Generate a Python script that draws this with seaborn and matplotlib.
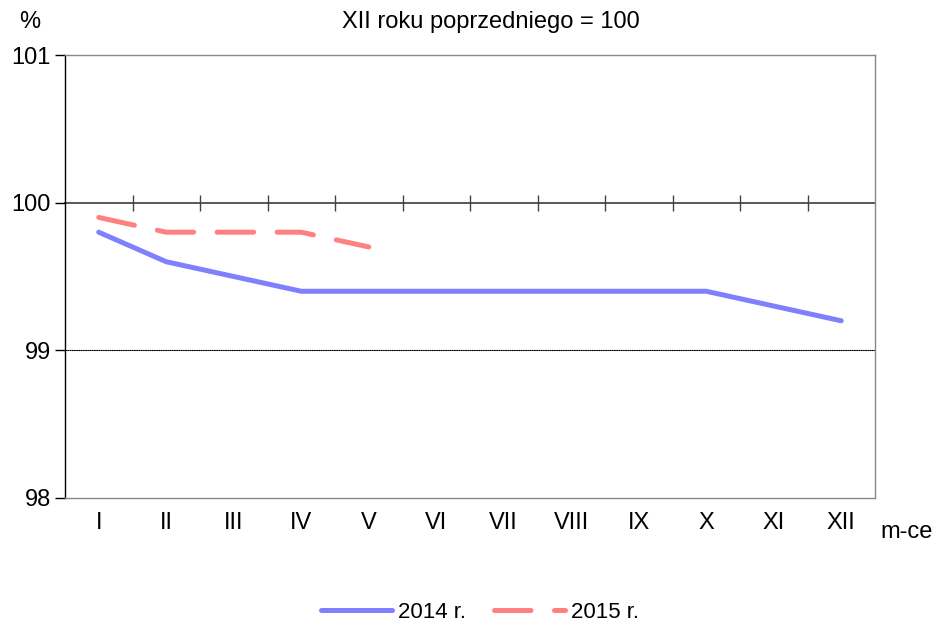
import matplotlib
matplotlib.use("Agg")
import matplotlib.pyplot as plt
import seaborn as sns
import pandas as pd
import numpy as np

months = ["I", "II", "III", "IV", "V", "VI", "VII", "VIII", "IX", "X", "XI", "XII"]
values_2014 = [99.8, 99.6, 99.5, 99.4, 99.4, 99.4, 99.4, 99.4, 99.4, 99.4, 99.3, 99.2]
values_2015 = [99.9, 99.8, 99.8, 99.8, 99.7]
series_names = ["2014 r.", "2015 r."]
yticks = [98, 99, 100, 101]

sns.set_theme(style="white")
plt.rcParams["font.family"] = ["Liberation Sans", "DejaVu Sans"]
plt.rcParams["lines.dash_capstyle"] = "round"
plt.rcParams["lines.solid_capstyle"] = "round"
plt.rcParams["text.color"] = "black"
plt.rcParams["xtick.labelcolor"] = "black"
plt.rcParams["ytick.labelcolor"] = "black"
plt.rcParams["legend.labelcolor"] = "black"

rows = []
for i, v in enumerate(values_2014):
    rows.append({"x": i, "v": v, "s": series_names[0]})
for i, v in enumerate(values_2015):
    rows.append({"x": i, "v": v, "s": series_names[1]})
df = pd.DataFrame(rows)

fig = plt.figure(figsize=(9.33, 6.28), dpi=100)
ax = fig.add_axes([65/933, 1-498/628, (875-65)/933, (498-55)/628])

sns.lineplot(data=df, x="x", y="v", hue="s", style="s",
             palette={series_names[0]: "#8080FF", series_names[1]: "#FF8080"},
             dashes={series_names[0]: "", series_names[1]: (7.3, 4.7)},
             linewidth=3.6, ax=ax, legend=True, zorder=3)

ax.set_xlim(-0.5, len(months) - 0.5)
ax.set_ylim(98, 101)
ax.set_yticks(yticks)
ax.set_yticklabels([str(t) for t in yticks], fontsize=17)
ax.tick_params(axis="y", direction="out", length=7, width=1, color="black",
               labelcolor="black", pad=3, left=True)
ax.set_xticks(range(len(months)))
ax.set_xticklabels(months, fontsize=17)
ax.tick_params(axis="x", length=0, pad=10, labelcolor="black")
ax.set_xlabel("")
ax.set_ylabel("")

for sp in ["top", "right", "bottom"]:
    ax.spines[sp].set_color("#888888")
    ax.spines[sp].set_linewidth(1)
ax.spines["left"].set_color("black")
ax.spines["left"].set_linewidth(1)

ax.axhline(99, color="black", linestyle=(0, (1, 1)), linewidth=0.8, zorder=1)

sec = ax.secondary_xaxis(location=(100 - 98) / 3)
sec.set_xticks(np.arange(0.5, len(months) - 1, 1.0))
sec.set_xticklabels([])
sec.tick_params(axis="x", direction="inout", length=12, width=1, color="#444444")
sec.spines["bottom"].set_color("#444444")
sec.spines["top"].set_color("#444444")
sec.spines["bottom"].set_linewidth(1)

fig.text(30/933, 1-22/628, "%", fontsize=17, ha="center", va="center", color="black")
fig.text(491/933, 1-22/628, "XII roku poprzedniego = 100", fontsize=17,
         ha="center", va="center", color="black")
fig.text(880/933, 1-532/628, "m-ce", fontsize=17, ha="left", va="center", color="black")

leg = ax.legend(loc="center", bbox_to_anchor=(480/933, 1-612/628), bbox_transform=fig.transFigure,
                ncol=2, frameon=False, fontsize=16, handlelength=3.2, handletextpad=0.27,
                columnspacing=1.26, labelcolor="black")
for line in leg.get_lines():
    line.set_linewidth(3.6)

fig.savefig("out.png", dpi=100)
